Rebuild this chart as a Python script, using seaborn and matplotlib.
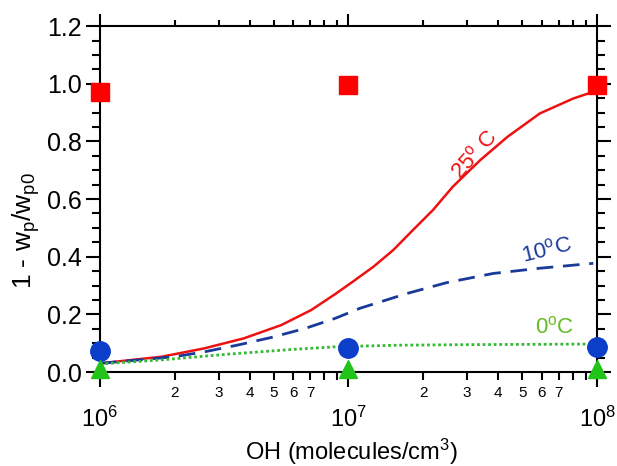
import numpy as np
import pandas as pd
import matplotlib
matplotlib.use("Agg")
import matplotlib.pyplot as plt
import matplotlib.ticker as mticker
import seaborn as sns

# ---- data ----
oh_points = [1e6, 1e7, 1e8]
sq_25 = [0.972, 0.995, 0.997]
circ_10 = [0.072, 0.084, 0.086]
tri_0 = [0.012, 0.012, 0.012]

log_oh_25 = [6.0, 6.248, 6.42, 6.58, 6.73, 6.85, 6.946, 7.02, 7.10, 7.18, 7.26,
             7.34, 7.42, 7.53, 7.64, 7.77, 7.905, 7.985]
curve_25 = [0.03, 0.053, 0.082, 0.117, 0.163, 0.215, 0.27, 0.315, 0.365, 0.423, 0.493,
            0.562, 0.643, 0.735, 0.816, 0.897, 0.949, 0.972]

log_oh_10 = [6.0, 6.30, 6.42, 6.557, 6.69, 6.825, 6.946, 7.046, 7.234, 7.395, 7.583,
             7.77, 7.985]
curve_10 = [0.03, 0.053, 0.07, 0.094, 0.12, 0.151, 0.186, 0.221, 0.272, 0.31, 0.342,
            0.36, 0.377]

log_oh_0 = [6.0, 6.248, 6.516, 6.785, 6.96, 7.2, 7.5, 7.985]
curve_0 = [0.028, 0.042, 0.062, 0.079, 0.088, 0.093, 0.095, 0.097]

sns.set_style("ticks")
plt.rcParams['font.family'] = ['Liberation Sans', 'DejaVu Sans']
plt.rcParams['mathtext.fontset'] = 'custom'
plt.rcParams['mathtext.rm'] = 'Liberation Sans'
plt.rcParams['mathtext.it'] = 'Liberation Sans'
plt.rcParams['text.color'] = 'black'
plt.rcParams['axes.labelcolor'] = 'black'
plt.rcParams['xtick.color'] = 'black'
plt.rcParams['ytick.color'] = 'black'

fig = plt.figure(figsize=(6.17, 4.66), dpi=100)
ax = fig.add_axes([0.162, 0.2017, 0.8056, 0.7423])

RED = '#ee1111'
BLUE_L = '#1a3a9a'
GREEN_L = '#33bb33'

d25 = pd.DataFrame({'x': 10 ** np.array(log_oh_25), 'y': curve_25})
d10 = pd.DataFrame({'x': 10 ** np.array(log_oh_10), 'y': curve_10})
d0 = pd.DataFrame({'x': 10 ** np.array(log_oh_0), 'y': curve_0})

sns.lineplot(data=d25, x='x', y='y', ax=ax, color=RED, lw=1.8)
sns.lineplot(data=d10, x='x', y='y', ax=ax, color=BLUE_L, lw=2.0)
ax.lines[-1].set_dashes((6, 3.5))
sns.lineplot(data=d0, x='x', y='y', ax=ax, color=GREEN_L, lw=2.0)
ax.lines[-1].set_linestyle((0, (1, 1)))

ax.plot(oh_points, sq_25, 's', color='#ff0000', ms=13, clip_on=False, zorder=5)
ax.plot(oh_points, circ_10, 'o', color='#0b3fc9', ms=14, clip_on=False, zorder=5)
ax.plot(oh_points, tri_0, '^', color='#22c41a', ms=13, clip_on=False, zorder=5)

ax.set_xscale('log')
ax.set_xlim(1e6, 1e8)
ax.set_ylim(0, 1.2)

yt = np.arange(0, 1.21, 0.2)
ax.set_yticks(yt)
ax.set_yticklabels([f"{v:.1f}" for v in yt])
ax.yaxis.set_minor_locator(mticker.MultipleLocator(0.05))

ax.set_xticks([1e6, 1e7, 1e8])
ax.set_xticklabels([r'$10^{6}$', r'$10^{7}$', r'$10^{8}$'])
ax.xaxis.set_minor_locator(mticker.LogLocator(base=10, subs=np.arange(2, 10)))

def minor_fmt(v, pos):
    m = int(round(v / 10 ** np.floor(np.log10(v) + 1e-9)))
    return str(m) if m <= 7 else ''
ax.xaxis.set_minor_formatter(mticker.FuncFormatter(minor_fmt))

ax.tick_params(axis='both', which='major', direction='out', width=1.5,
               top=True, right=True, color='black', labelcolor='black')
ax.tick_params(axis='both', which='minor', direction='out', width=1.5,
               top=True, right=True, color='black', labelcolor='black')
ax.tick_params(axis='y', which='major', length=10, labelsize=18, pad=3, labelright=False)
ax.tick_params(axis='y', which='minor', length=6, labelright=False)
ax.tick_params(axis='x', which='major', length=11, labelsize=17, pad=14, labeltop=False)
ax.tick_params(axis='x', which='minor', length=6, labelsize=11, pad=4, labeltop=False)

for t in ax.xaxis.get_major_ticks():
    t.tick2line.set_markersize(9)
for t in ax.xaxis.get_minor_ticks():
    t.tick2line.set_markersize(4)

for s in ax.spines.values():
    s.set_linewidth(1.5)
    s.set_visible(True)
    s.set_color('black')

ax.set_xlabel(r'OH (molecules/cm$^{3}$)', fontsize=17, va='baseline', color='black')
ax.xaxis.set_label_coords(0.505, -0.255)
ax.set_ylabel(r'1 - w$_{\rm p}$/w$_{\rm p0}$', fontsize=19, va='center', color='black')
ax.yaxis.set_label_coords(-0.148, 0.41)

ax.text(10 ** 7.51, 0.755, r'25$^{\rm o}$ C', color='#ee1111', fontsize=16, rotation=48,
        ha='center', va='center')
ax.text(10 ** 7.80, 0.42, r'10$^{\rm o}$C', color='#1a3a9a', fontsize=16, rotation=14,
        ha='center', va='center')
ax.text(10 ** 7.827, 0.156, r'0$^{\rm o}$C', color='#66bb22', fontsize=16,
        ha='center', va='center')

fig.savefig('out.png', dpi=100)
